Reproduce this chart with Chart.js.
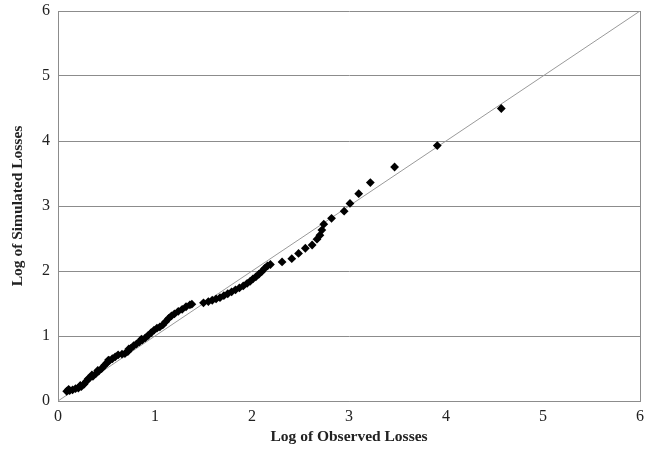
<!DOCTYPE html>
<html lang="en">
  <head>
    <meta charset="UTF-8" />
    <title>Log of Simulated vs Observed Losses</title>
    <script src="https://cdn.jsdelivr.net/npm/chart.js"></script>
    <style>
      html, body { margin: 0; padding: 0; background: #fff; }
      #wrap { width: 646px; height: 451px; }
    </style>
  </head>
  <body>
    <div id="wrap"><canvas id="qq" width="646" height="451"></canvas></div>
    <script>
      // log of observed losses (x) and log of simulated losses (y)
      const observed = [
        0.09, 0.11, 0.12, 0.15, 0.18, 0.21, 0.23, 0.24, 0.27, 0.29,
        0.31, 0.33, 0.35, 0.36, 0.39, 0.41, 0.42, 0.45, 0.48, 0.50,
        0.52, 0.53, 0.56, 0.59, 0.62, 0.66, 0.69, 0.72, 0.73, 0.75,
        0.78, 0.81, 0.84, 0.86, 0.87, 0.90, 0.93, 0.96, 0.99, 1.02,
        1.05, 1.08, 1.11, 1.14, 1.17, 1.20, 1.24, 1.28, 1.32, 1.36,
        1.38, 1.50, 1.55, 1.59, 1.63, 1.67, 1.71, 1.75, 1.79, 1.83,
        1.87, 1.91, 1.95, 1.98, 2.01, 2.04, 2.07, 2.10, 2.13, 2.16,
        2.19, 2.31, 2.41, 2.48, 2.55, 2.62, 2.67, 2.70, 2.72, 2.74,
        2.82, 2.95, 3.01, 3.10, 3.22, 3.47, 3.91, 4.57
      ];
      const simulated = [
        0.15, 0.18, 0.16, 0.17, 0.19, 0.20, 0.24, 0.22, 0.26, 0.30,
        0.34, 0.36, 0.40, 0.38, 0.42, 0.47, 0.46, 0.50, 0.55, 0.58,
        0.63, 0.62, 0.65, 0.68, 0.71, 0.72, 0.73, 0.76, 0.80, 0.81,
        0.85, 0.88, 0.91, 0.95, 0.94, 0.97, 1.01, 1.05, 1.09, 1.12,
        1.14, 1.17, 1.22, 1.27, 1.31, 1.34, 1.38, 1.41, 1.45, 1.48,
        1.49, 1.51, 1.53, 1.55, 1.57, 1.59, 1.62, 1.65, 1.68, 1.71,
        1.74, 1.77, 1.81, 1.84, 1.88, 1.91, 1.95, 1.99, 2.04, 2.08,
        2.10, 2.14, 2.19, 2.27, 2.35, 2.40, 2.49, 2.55, 2.63, 2.72,
        2.81, 2.92, 3.04, 3.19, 3.36, 3.60, 3.93, 4.50
      ];
      const refLine = [0, 6]; // 45 degree reference line
      const axisTicks = [0, 1, 2, 3, 4, 5, 6];

      const points = observed.map((x, i) => ({ x: x, y: simulated[i] }));
      const diag = refLine.map((v) => ({ x: v, y: v }));

      const serif = "'Liberation Serif', 'DejaVu Serif', serif";
      const gridGray = "#8c8c8c";

      const ctx = document.getElementById("qq").getContext("2d");
      new Chart(ctx, {
        type: "scatter",
        data: {
          datasets: [
            {
              label: "Losses",
              data: points,
              backgroundColor: "#000",
              borderColor: "#000",
              pointStyle: "rectRot",
              pointRadius: 4.4,
              pointBorderWidth: 0,
              order: 1,
            },
            {
              type: "line",
              label: "y = x",
              data: diag,
              borderColor: "#9a9a9a",
              borderWidth: 1,
              pointRadius: 0,
              fill: false,
              order: 2,
            },
          ],
        },
        options: {
          responsive: false,
          animation: false,
          layout: { padding: { top: 11, right: 6, left: 0, bottom: 0 } },
          plugins: {
            legend: { display: false },
            tooltip: { enabled: false },
          },
          scales: {
            x: {
              type: "linear",
              min: 0,
              max: 6,
              afterBuildTicks: (s) => { s.ticks = axisTicks.map((v) => ({ value: v })); },
              afterFit: (s) => {
                s.height = 50;
                s.paddingLeft = 0;
                s.paddingRight = 0;
              },
              border: { color: gridGray, width: 1 },
              grid: {
                drawTicks: false,
                color: (c) => (c.tick && c.tick.value === 6 ? gridGray : "rgba(0,0,0,0)"),
              },
              ticks: {
                padding: 6,
                color: "#222",
                font: { family: serif, size: 16 },
              },
              title: {
                display: true,
                text: "Log of Observed Losses",
                color: "#222",
                font: { family: serif, size: 15.5, weight: "bold" },
                padding: { top: 2, bottom: 5 },
              },
            },
            y: {
              type: "linear",
              min: 0,
              max: 6,
              afterBuildTicks: (s) => { s.ticks = axisTicks.map((v) => ({ value: v })); },
              afterFit: (s) => {
                s.width = 58;
                s.paddingTop = 0;
                s.paddingBottom = 0;
              },
              border: { color: gridGray, width: 1 },
              grid: {
                drawTicks: false,
                color: gridGray,
                lineWidth: 1,
              },
              ticks: {
                padding: 8,
                color: "#222",
                font: { family: serif, size: 16 },
              },
              title: {
                display: true,
                text: "Log of Simulated Losses",
                color: "#222",
                font: { family: serif, size: 15.5, weight: "bold" },
                padding: { top: 9, bottom: 6 },
              },
            },
          },
        },
      });
    </script>
  </body>
</html>
